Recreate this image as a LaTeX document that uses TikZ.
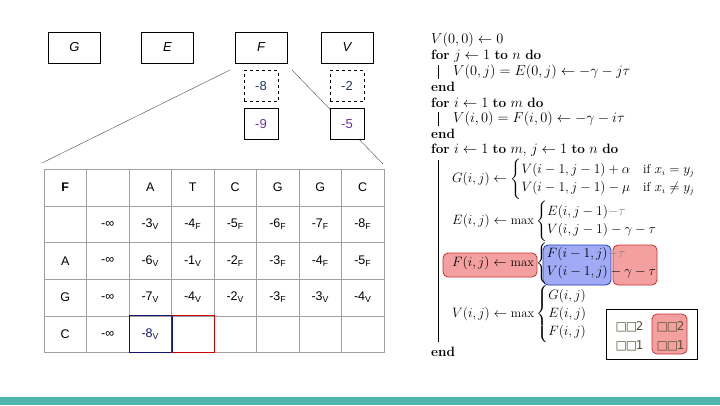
\documentclass[tikz,border=0pt]{standalone}
\usepackage{amsmath}
\usepackage{fontspec}
\newfontfamily\arialf{Liberation Sans}
\newfontfamily\djv{DejaVu Sans}
\definecolor{barteal}{RGB}{80,181,170}
\definecolor{gridgray}{RGB}{160,160,160}
\definecolor{numblue}{RGB}{31,56,100}
\definecolor{numpurple}{RGB}{112,48,160}
\definecolor{navyb}{RGB}{20,20,110}
\definecolor{hlred}{RGB}{244,160,160}
\definecolor{hlredb}{RGB}{200,50,50}
\definecolor{hlblue}{RGB}{160,170,245}
\definecolor{hlblueb}{RGB}{30,60,190}
\definecolor{glyph}{RGB}{90,80,50}
\newcommand\sbs[1]{\textsubscript{#1}}
\newcommand\tcell[3]{\node[cellbox] (c#1#2) at ({44+42.5*(#1+0.5)},{169.3+36.6*(#2+0.5)}) {#3};}
\newcommand\shrinkm[1]{\scalebox{0.94}{#1}}
\begin{document}
\begin{tikzpicture}[x=1pt,y=-1pt,
  topbox/.style={draw, minimum width=52pt, minimum height=31pt, inner sep=0pt, font=\arialf\itshape\fontsize{13}{13}\selectfont},
  valbox/.style={draw, fill=white, minimum width=34pt, minimum height=31pt, inner sep=0pt, font=\arialf\fontsize{13}{13}\selectfont},
  cellbox/.style={draw=gridgray, minimum width=42.5pt, minimum height=36.6pt, inner sep=0pt, font=\arialf\fontsize{12.5}{12.5}\selectfont},
  zoomline/.style={draw=black!70, thin},
  alg/.style={anchor=west, inner sep=0pt, font=\fontsize{13.5}{16}\selectfont},
  hl/.style={rounded corners=5pt, thick},
  legglyph/.style={inner sep=0pt, text=glyph, font=\djv\fontsize{12}{12}\selectfont}
]
\useasboundingbox (0,0) rectangle (720,405);
\fill[white] (0,0) rectangle (720,405);
\fill[barteal] (0,397) rectangle (720,405);

% top boxes
\node[topbox] (G) at (74.5,47.5) {G};
\node[topbox] (E) at (167.5,47.5) {E};
\node[topbox] (F) at (261,47.5) {F};
\node[topbox] (V) at (347,47.5) {V};

% zoom lines
\coordinate (zls) at (230,70);
\coordinate (zle) at (42,163);
\coordinate (zrs) at (292,70);
\coordinate (zre) at (383,164);
\draw[zoomline] (zls) -- (zle);
\draw[zoomline] (zrs) -- (zre);

\node[valbox, dashed, text=numblue] (f8) at (261,86) {-8};
\node[valbox, dashed, text=numblue] (v2) at (347,86) {-2};
\node[valbox, text=numpurple] (f9) at (261,124) {-9};
\node[valbox, text=numpurple] (v5) at (347,124) {-5};

% table
\tcell{0}{0}{\bfseries F}\tcell{1}{0}{}\tcell{2}{0}{A}\tcell{3}{0}{T}\tcell{4}{0}{C}\tcell{5}{0}{G}\tcell{6}{0}{G}\tcell{7}{0}{C}
\tcell{0}{1}{}\tcell{1}{1}{-∞}\tcell{2}{1}{-3\sbs{V}}\tcell{3}{1}{-4\sbs{F}}\tcell{4}{1}{-5\sbs{F}}\tcell{5}{1}{-6\sbs{F}}\tcell{6}{1}{-7\sbs{F}}\tcell{7}{1}{-8\sbs{F}}
\tcell{0}{2}{A}\tcell{1}{2}{-∞}\tcell{2}{2}{-6\sbs{V}}\tcell{3}{2}{-1\sbs{V}}\tcell{4}{2}{-2\sbs{F}}\tcell{5}{2}{-3\sbs{F}}\tcell{6}{2}{-4\sbs{F}}\tcell{7}{2}{-5\sbs{F}}
\tcell{0}{3}{G}\tcell{1}{3}{-∞}\tcell{2}{3}{-7\sbs{V}}\tcell{3}{3}{-4\sbs{V}}\tcell{4}{3}{-2\sbs{V}}\tcell{5}{3}{-3\sbs{F}}\tcell{6}{3}{-3\sbs{V}}\tcell{7}{3}{-4\sbs{V}}
\tcell{0}{4}{C}\tcell{1}{4}{-∞}\tcell{2}{4}{\color{navyb}-8\sbs{V}}\tcell{3}{4}{}\tcell{4}{4}{}\tcell{5}{4}{}\tcell{6}{4}{}\tcell{7}{4}{}
\draw[navyb] (c24.south west) rectangle (c24.north east);
\draw[red!80!black] (c34.south west) rectangle (c34.north east);

% highlights
\draw[hl, fill=hlred, draw=hlredb] (443,253) rectangle (537,277);
\draw[hl, fill=hlblue, draw=hlblueb] (543,245) rectangle (611,285);
\draw[hl, fill=hlred, draw=hlredb] (613,245) rectangle (657,285);

% algorithm
\node[alg] (l1) at (431,40) {$V(0,0) \leftarrow 0$};
\node[alg] (l2) at (431,56) {\textbf{for} $j \leftarrow 1$ \textbf{to} $n$ \textbf{do}};
\node[alg] (l3) at (453,72) {$V(0,j) = E(0,j) \leftarrow -\gamma - j\tau$};
\node[alg] (l4) at (431,87) {\textbf{end}};
\node[alg] (l5) at (431,103) {\textbf{for} $i \leftarrow 1$ \textbf{to} $m$ \textbf{do}};
\node[alg] (l6) at (453,119) {$V(i,0) = F(i,0) \leftarrow -\gamma - i\tau$};
\node[alg] (l7) at (431,134) {\textbf{end}};
\node[alg] (l8) at (431,150) {\textbf{for} $i \leftarrow 1$ \textbf{to} $m$, $j \leftarrow 1$ \textbf{to} $n$ \textbf{do}};
\node[alg] (l9) at (452,179) {\shrinkm{$G(i,j) \leftarrow \begin{cases} V(i-1,j-1)+\alpha & \text{if } x_i = y_j\\ V(i-1,j-1)-\mu & \text{if } x_i \neq y_j\end{cases}$}};
\node[alg] (l10) at (452,221) {\shrinkm{$E(i,j) \leftarrow \max\begin{cases} E(i,j-1) \color{gray}{-\tau}\\ V(i,j-1)-\gamma-\tau\end{cases}$}};
\node[alg] (l11) at (452,263) {\shrinkm{$F(i,j) \leftarrow \max\begin{cases} F(i-1,j) \color{gray}{-\tau}\\ V(i-1,j) -\gamma-\tau\end{cases}$}};
\node[alg] (l12) at (452,314) {\shrinkm{$V(i,j) \leftarrow \max\begin{cases} G(i,j)\\ E(i,j)\\ F(i,j)\end{cases}$}};
\node[alg] (l13) at (431,352) {\textbf{end}};
\draw[line width=0.6pt] (438,65) -- (438,79);
\draw[line width=0.6pt] (438,112) -- (438,126);
\draw[line width=0.6pt] (438,160) -- (438,342);

% legend
\node[draw, fill=white, minimum width=91pt, minimum height=50pt, inner sep=0pt] (leg) at (651.5,334) {};
\draw[hl, fill=hlred, draw=hlredb] (652,314) rectangle (687,354);
\node[legglyph] (g1) at (629.5,327) {□\kern-1pt□\kern-1.5pt2};
\node[legglyph] (g2) at (629.5,346) {□\kern-1pt□\kern-1.5pt1};
\node[legglyph] (g3) at (670.5,327) {□\kern-1pt□\kern-1.5pt2};
\node[legglyph] (g4) at (670.5,346) {□\kern-1pt□\kern-1.5pt1};
\end{tikzpicture}
\end{document}
